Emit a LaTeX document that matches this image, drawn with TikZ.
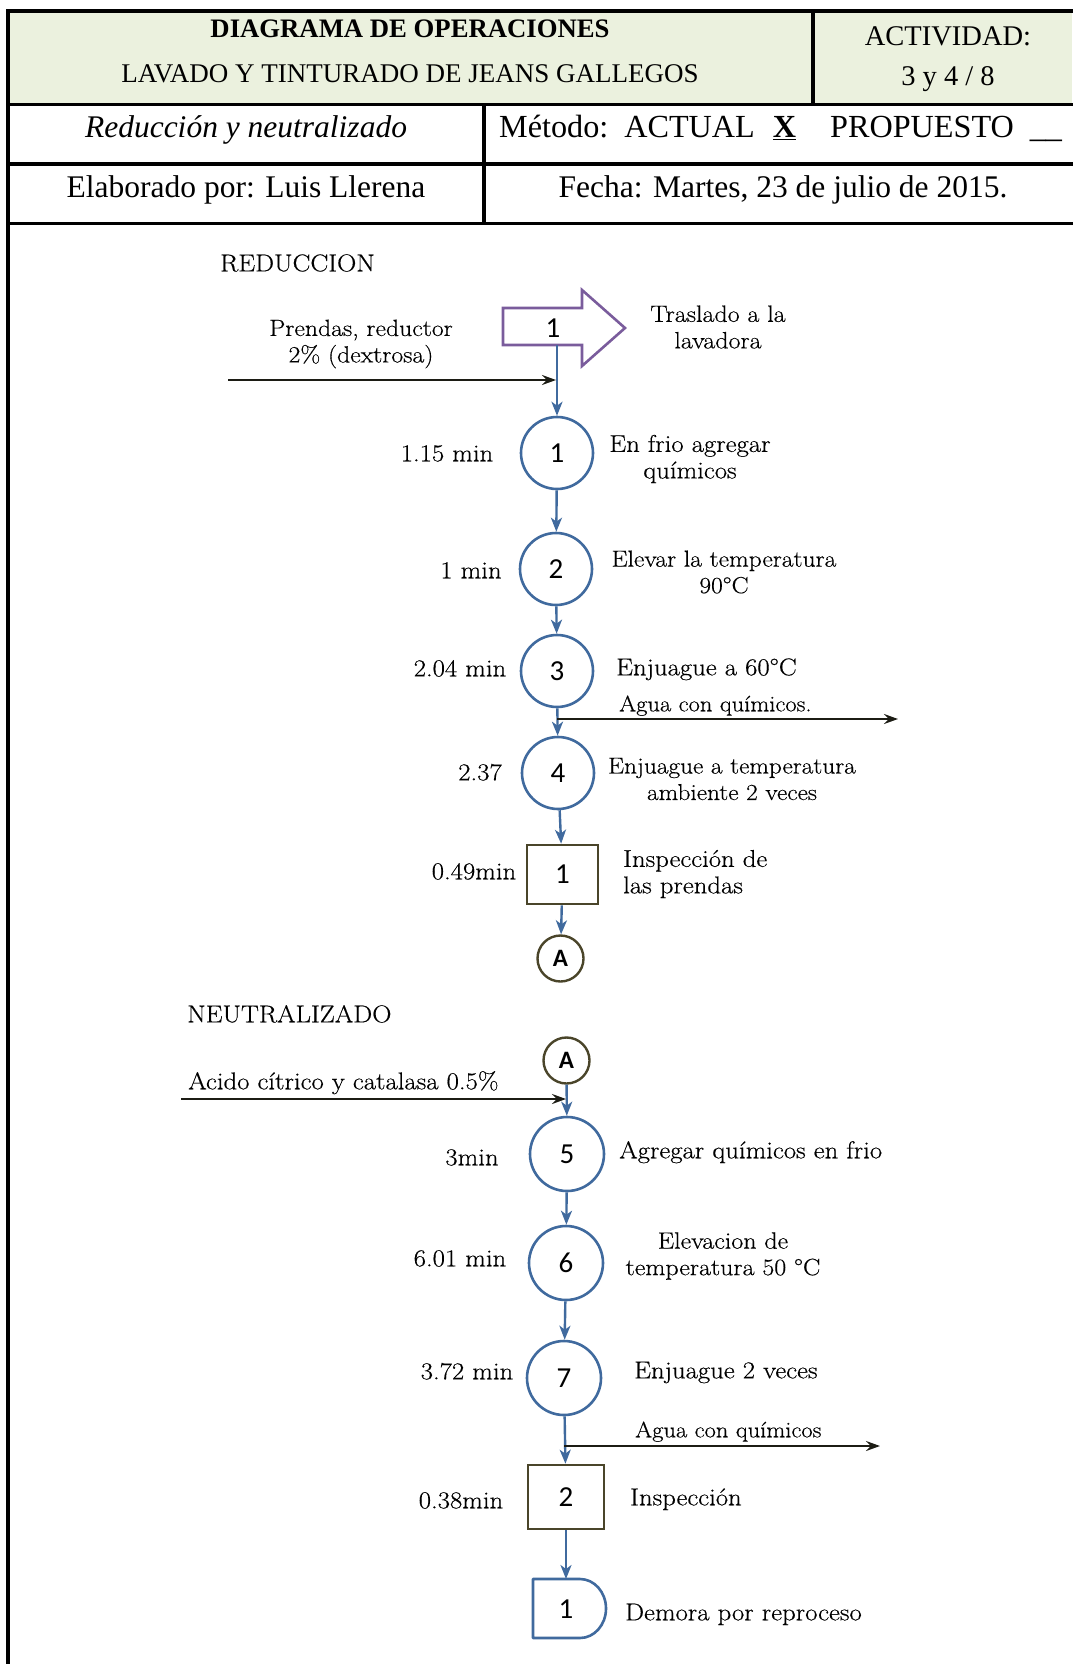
\documentclass[tikz,border=0pt]{standalone}
\usepackage{fontspec}
\setmainfont[FakeStretch=1.1,FakeBold=0.4]{Latin Modern Roman}
\newfontfamily\tnr{Liberation Serif}
\newfontfamily\numfont{Carlito}
\usetikzlibrary{arrows.meta}

\definecolor{hdrgreen}{RGB}{235,241,222}
\definecolor{flowblue}{RGB}{64,106,158}
\definecolor{movepurple}{RGB}{122,92,156}
\definecolor{inspolive}{RGB}{74,69,42}
\definecolor{inkblack}{RGB}{28,28,20}

\tikzset{
  rule/.style={line width=3.6pt, line cap=rect},
  hdrb/.style={inner sep=0pt, font=\tnr\bfseries\fontsize{26.7}{26.7}\selectfont, text height=17.6pt, text depth=0pt},
  hdr/.style={inner sep=0pt, font=\tnr\fontsize{27}{27}\selectfont, text height=17.9pt, text depth=0pt},
  hdrbig/.style={inner sep=0pt, font=\tnr\fontsize{28.5}{28.5}\selectfont, text height=18.9pt, text depth=0pt},
  cell/.style={inner sep=0pt, font=\tnr\fontsize{31.5}{31.5}\selectfont, text height=20.8pt, text depth=0pt},
  lbl/.style={inner sep=0pt, font=\fontsize{24.3}{26.5}\selectfont, text height=16.6pt, text depth=0pt},
  lbltwo/.style={inner sep=0pt, font=\fontsize{24.3}{26.5}\selectfont, align=center},
  lblleft/.style={inner sep=0pt, font=\fontsize{24.3}{26.5}\selectfont, align=left},
  sz/.style={font=\fontsize{#1}{26.5}\selectfont},
  opn/.style={circle, draw=flowblue, line width=2.6pt, minimum size=72pt, inner sep=0pt,
              font=\numfont\fontsize{29}{29}\selectfont},
  inspn/.style={rectangle, draw=inspolive, line width=2.6pt, inner sep=0pt,
              font=\numfont\fontsize{29}{29}\selectfont},
  linkn/.style={circle, draw=inspolive, line width=2.4pt, minimum size=46pt, inner sep=0pt,
              font=\numfont\bfseries\fontsize{25}{25}\selectfont},
  digit/.style={inner sep=0pt, font=\numfont\fontsize{29}{29}\selectfont},
  flow/.style={draw=flowblue, line width=2.4pt, -{Stealth[length=14pt,width=11pt,inset=4pt]}},
  feed/.style={draw=inkblack, line width=2.6pt, -{Stealth[length=14pt,width=10pt,inset=5pt]}},
}

\begin{document}
\begin{tikzpicture}[x=1pt,y=-1pt]
\useasboundingbox (0,0) rectangle (1072,1664);
\fill[white] (0,0) rectangle (1072,1664);

% ---------- header table ----------
\fill[hdrgreen] (8,11) rectangle (1072,104.5);
\draw[rule] (1074,11) -- (8,11) -- (8,1664);
\draw[rule] (8,104.5) -- (1074,104.5);
\draw[rule] (8,164) -- (1074,164);
\draw[rule] (8,223.5) -- (1074,223.5);
\draw[rule] (813,11) -- (813,104.5);
\draw[rule] (484,104.5) -- (484,223.5);

\node[hdrb] (title) at (410,29) {DIAGRAMA DE OPERACIONES};
\node[hdr] (subtitle) at (410,74) {LAVADO Y TINTURADO DE JEANS GALLEGOS};
\node[hdrbig] (act) at (948,36) {ACTIVIDAD:};
\node[hdrbig] (actnum) at (948,76) {3 y 4 / 8};
\node[cell, font=\tnr\itshape\fontsize{31.5}{31.5}\selectfont] (proc) at (246,127) {Reducción y neutralizado};
\node[cell, anchor=west, font=\tnr\fontsize{32.2}{32.2}\selectfont] (method) at (499,127)
  {Método:\hspace{16pt}ACTUAL\hspace{18pt}\underline{\textbf{X}}\hspace{34pt}PROPUESTO\hspace{16pt}\_\_};
\node[cell] (author) at (246,187) {Elaborado por: Luis Llerena};
\node[cell] (date) at (783,187) {Fecha: Martes, 23 de julio de 2015.};

% ---------- reduction ----------
\node[lbl, anchor=west] (secred) at (220,263) {REDUCCION};

\draw[movepurple, line width=2.6pt, line join=miter]
  (503,308) -- (582,308) -- (582,290) -- (625,328) -- (582,366) -- (582,345) -- (503,345) -- cycle;
\node[digit] (tr) at (553,328) {1};
\coordinate (trout) at (557,345);
\node[lbltwo, sz=23.6] (trtxt) at (718,327) {Traslado a la\\lavadora};

\node[lbltwo, sz=23.4] (feedAtxt) at (361,344) {Prendas, reductor\\2\% (dextrosa)};

\node[opn] (o1) at (557,453) {1};
\node[opn] (o2) at (556,569) {2};
\node[opn] (o3) at (557,671) {3};
\node[opn] (o4) at (558,773) {4};
\node[inspn, minimum width=71pt, minimum height=59pt] (i1) at (562.5,874.5) {1};
\node[linkn] (a1) at (560.5,958.5) {A};

\node[lbl] (t1) at (447,453) {1.15 min};
\node[lbl] (t2) at (471,570) {1 min};
\node[lbl] (t3) at (460,668) {2.04 min};
\node[lbl] (t4) at (480,772) {2.37};
\node[lbl] (t5) at (474,871) {0.49min};

\node[lbltwo] (d1) at (690,459) {En frio agregar\\químicos};
\node[lbltwo, sz=23.2] (d2) at (724,572) {Elevar la temperatura\\90°C};
\node[lbl, anchor=west] (d3) at (616,667) {Enjuague a 60°C};
\node[lbl, anchor=west, sz=22.3] (w1) at (619,703) {Agua con químicos.};
\node[lbltwo, sz=23] (d4) at (732,779) {Enjuague a temperatura\\ambiente 2 veces};
\node[lblleft, anchor=west] (d5) at (623,874) {Inspección de\\las prendas};

\coordinate (feedAin) at (228,380);
\coordinate (feedAend) at (556,380);
\coordinate (wasteAsplit) at (557,719);
\coordinate (wasteAout) at (898,719);

\draw[flow] (trout) -- (o1);
\draw[flow] (o1) -- (o2);
\draw[flow] (o2) -- (o3);
\draw[flow] (o3) -- (o4);
\draw[flow] (o4) -- (i1);
\draw[flow] (i1) -- (a1);
\draw[feed] (feedAin) -- (feedAend);
\draw[feed] (wasteAsplit) -- (wasteAout);

% ---------- neutralisation ----------
\node[lbl, anchor=west] (secneu) at (187,1014) {NEUTRALIZADO};
\node[linkn] (a2) at (566.5,1060.5) {A};
\node[lbl, anchor=west] (feedBtxt) at (188,1081) {Acido cítrico y catalasa 0.5\%};

\node[opn, minimum size=74pt] (o5) at (567,1154) {5};
\node[opn, minimum size=74pt] (o6) at (566,1263) {6};
\node[opn, minimum size=74pt] (o7) at (564,1378) {7};
\node[inspn, minimum width=76pt, minimum height=64pt] (i2) at (566,1497) {2};

\draw[flowblue, line width=2.6pt, line join=round]
  (533,1579) -- (580,1579) arc[start angle=-90, end angle=90, x radius=26, y radius=29.5]
  -- (533,1638) -- cycle;
\node[digit] (dl) at (566,1609) {1};
\coordinate (dltop) at (566,1579);

\node[lbl] (t6) at (472,1157) {3min};
\node[lbl] (t7) at (460,1258) {6.01 min};
\node[lbl] (t8) at (467,1371) {3.72 min};
\node[lbl] (t9) at (461,1500) {0.38min};

\node[lbl, anchor=west] (d6) at (619,1150) {Agregar químicos en frio};
\node[lbltwo, sz=23.6] (d7) at (723,1256) {Elevacion de\\temperatura 50 °C};
\node[lbl, anchor=west] (d8) at (634,1370) {Enjuague 2 veces};
\node[lbl, anchor=west, sz=22.3] (w2) at (635,1429) {Agua con químicos};
\node[lbl, anchor=west] (d9) at (630,1497) {Inspección};
\node[lbl, anchor=west] (d10) at (625,1612) {Demora por reproceso};

\coordinate (feedBin) at (181,1099);
\coordinate (feedBend) at (566,1099);
\coordinate (wasteBsplit) at (564,1446);
\coordinate (wasteBout) at (880,1446);

\draw[flow] (a2) -- (o5);
\draw[flow] (o5) -- (o6);
\draw[flow] (o6) -- (o7);
\draw[flow] (o7) -- (i2);
\draw[flow] (i2) -- (dltop);
\draw[feed] (feedBin) -- (feedBend);
\draw[feed] (wasteBsplit) -- (wasteBout);
\end{tikzpicture}
\end{document}
